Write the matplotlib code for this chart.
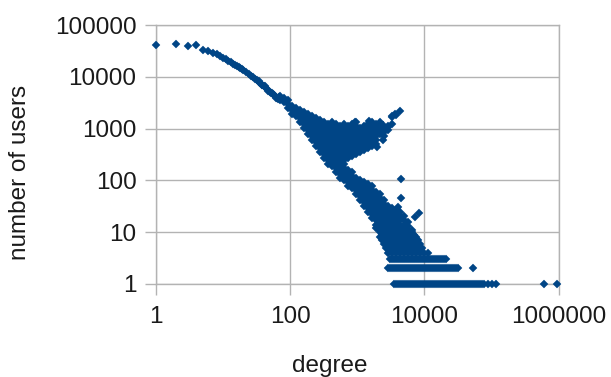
import matplotlib
matplotlib.use("Agg")
import matplotlib.pyplot as plt
from matplotlib.ticker import NullLocator

plt.rcParams['font.family'] = ['Liberation Sans', 'DejaVu Sans']

# Degree distribution: number of users having each degree

# the clean head of the curve
head_deg = [1, 2, 3, 4, 5, 6, 7, 8, 9, 10, 11, 12, 13, 14, 15, 16, 17, 18, 19, 20,
            22, 24, 26, 28, 30, 32, 34, 36, 38, 40, 43, 46, 50, 53, 56, 60, 63,
            34, 38, 42, 47, 52, 58, 61, 66, 68]
head_users = [41000, 42500, 40000, 41000, 33500, 31000, 29000, 27000, 25000, 23300,
              21800, 20400, 19000, 17900, 16900, 16000, 15300, 14600, 13900, 13300,
              12300, 11300, 10500, 9800, 9100, 8500, 8000, 7500, 7050, 6640, 6150,
              5650, 5200, 4850, 4590, 4200, 3980,
              8300, 6800, 6600, 5300, 4800, 4500, 3900, 3700, 4000]

# upper part: spread of the curve and the bump near 1000 users
upper_cols = {
    70: [4260, 3565],
    81: [3900, 3263],
    93: [3565, 2985, 2500],
    106: [2731, 2287, 1914],
    122: [2500, 2091, 1751],
    140: [2287, 1914, 1602, 1341],
    161: [2091, 1751, 1466, 1227, 1027],
    184: [1914, 1602, 1341, 1122, 940, 787],
    211: [1751, 1466, 1227, 1027, 860, 720, 603],
    243: [1602, 1341, 1122, 940, 787, 659, 551, 461],
    278: [1466, 1227, 1027, 860, 720, 603, 504, 422, 353],
    319: [1341, 1122, 940, 787, 659, 551, 461, 386, 323, 271],
    366: [1227, 1027, 860, 720, 603, 504, 422, 353, 296, 248, 207],
    420: [1341, 1122, 940, 787, 659, 551, 461, 386, 323, 271, 227, 190],
    481: [1227, 1027, 860, 720, 603, 504, 422, 353, 296, 248, 207, 173, 145],
    552: [1122, 940, 787, 659, 551, 461, 386, 323, 271, 227, 190, 159, 133, 111],
    634: [1227, 1027, 860, 720, 603, 504, 422, 353, 296, 248, 207, 173, 145, 122, 102],
    727: [1122, 940, 787, 659, 551, 461, 386, 323, 271],
    834: [1227, 1027, 860, 720, 603, 504, 422, 353, 296],
    957: [1341, 1122, 940, 787, 659, 551, 461, 386, 323],
    1097: [1027, 860, 720, 603, 504, 422, 353],
    1259: [1122, 940, 787, 659, 551, 461, 386],
    1444: [1227, 1027, 860, 720, 603, 504, 422],
    1656: [1341, 1122, 940, 787, 659, 551, 461],
    1900: [1227, 1027, 860, 720, 603, 504],
    2179: [1341, 1122, 940, 787],
    2500: [1027, 860, 720],
    2868: [1122, 940],
    3290: [1751, 1227],
    3774: [1836],
    4330: [2180],
}

# lower branch going down to ~10 users
lower_cols = {
    727: [159, 133, 111, 93, 78],
    834: [145, 122, 102, 85, 71],
    957: [111, 93, 78, 65, 55],
    1097: [102, 85, 71, 60, 50, 42],
    1259: [93, 78, 65, 55, 46, 38, 32],
    1444: [85, 71, 60, 50, 42, 35, 29, 25],
    1656: [78, 65, 55, 46, 38, 32, 27, 22, 19],
    1900: [60, 50, 42, 35, 29, 25, 21, 17, 14, 12],
    2179: [55, 46, 38, 32, 27, 22, 19, 16, 13, 11],
    2500: [42, 35, 29, 25, 21, 17, 14, 12],
    2868: [32, 27, 22, 19, 16, 13, 11],
    3290: [29, 25, 21, 17, 14, 12],
    3774: [27, 22, 19, 16, 13, 11],
    4330: [25, 21, 17, 14, 12],
    4967: [21, 17, 14, 12],
    5698: [16, 13, 11],
    6536: [11],
}

# small counts: degrees having 10, 9, ... 1 users
rows = {
    10: [2179, 2500, 2868, 3290, 3774, 4330, 4967, 5698, 6536],
    9: [2334, 2677, 3071, 3523, 4041, 4636, 5318, 6100, 6998],
    8: [2179, 2500, 2868, 3290, 3774, 4330, 4967, 5698, 6536, 7498],
    7: [2334, 2677, 3071, 3523, 4041, 4636, 5318, 6100, 6998, 8027],
    6: [2500, 2868, 3290, 3774, 4330, 4967, 5698, 6536, 7498, 8601],
    5: [2677, 3071, 3523, 4041, 4636, 5318, 6100, 6998, 8027, 9208],
    4: [2868, 3290, 3774, 4330, 4967, 5698, 6536, 7498, 8601, 9866, 11318],
    3: [3071, 3290, 3523, 3774, 4041, 4330, 4636, 4967, 5318, 5698, 6100, 6536,
        6998, 7498, 8027, 8601, 9208, 9866, 10563, 11318, 12117, 12983, 13900,
        14894, 15945, 17085, 18291, 19599, 20982],
    2: [2868, 3071, 3290, 3523, 3774, 4041, 4330, 4636, 4967, 5318, 5698, 6100,
        6536, 6998, 7498, 8027, 8601, 9208, 9866, 10563, 11318, 12117, 12983,
        13900, 14894, 15945, 17085, 18291, 19599, 20982, 22483, 24069, 25791,
        27610, 29586, 31672, 53000],
    1: [3523, 3774, 4041, 4330, 4636, 4967, 5318, 5698, 6100, 6536, 6998, 7498,
        8027, 8601, 9208, 9866, 10563, 11318, 12117, 12983, 13900, 14894, 15945,
        17085, 18291, 19599, 20982, 22483, 24069, 25791, 27610, 29586, 31672,
        33939, 36332, 38933, 41678, 44662, 47810, 51233, 54845, 58771, 62914,
        67419, 72170, 77340, 88720, 101774, 116749, 610000, 950000],
}

# isolated points
stray_deg = [924, 1494, 2390, 2390, 1960, 2870, 3680, 3290, 4436, 4436, 4040, 7200, 8200]
stray_users = [1360, 1400, 1180, 600, 445, 1090, 1910, 1680, 106, 46, 31, 20, 23]

xs = list(head_deg) + list(stray_deg)
ys = list(head_users) + list(stray_users)
for d, us in upper_cols.items():
    xs += [d] * len(us)
    ys += us
for d, us in lower_cols.items():
    xs += [d] * len(us)
    ys += us
for u, ds in rows.items():
    xs += ds
    ys += [u] * len(ds)

grey = '#b3b3b3'
blue = '#004586'

fig = plt.figure(figsize=(6.11, 3.77), dpi=100)
ax = fig.add_axes([156 / 611, 1 - 284 / 377, (558.7 - 156) / 611, (284 - 25) / 377])

ax.plot(xs, ys, linestyle='none', marker='D', markersize=4.3, color=blue,
        markeredgecolor=blue, markeredgewidth=0.3, clip_on=False, zorder=3)

ax.set_xscale('log')
ax.set_yscale('log')
ax.set_xlim(1, 1e6)
ax.set_ylim(1, 1e5)

ax.set_xticks([1, 100, 10000, 1000000])
ax.set_xticklabels(['1', '100', '10000', '1000000'])
ax.set_yticks([1, 10, 100, 1000, 10000, 100000])
ax.set_yticklabels(['1', '10', '100', '1000', '10000', '100000'])
ax.xaxis.set_minor_locator(NullLocator())
ax.yaxis.set_minor_locator(NullLocator())

ax.grid(True, color=grey, linewidth=1)
ax.set_axisbelow(True)
for s in ax.spines.values():
    s.set_color(grey)
    s.set_linewidth(1)

ax.tick_params(direction='out', length=8, width=1, color=grey,
               labelsize=17.5, labelcolor='#1a1a1a')
ax.tick_params(axis='y', pad=6)
ax.tick_params(axis='x', pad=8)

fig.text(20 / 611, 1 - 172 / 377, 'number of users', rotation=90,
         ha='center', va='center', fontsize=17.5, color='#1a1a1a')
fig.text(330 / 611, 1 - 366 / 377, 'degree',
         ha='center', va='center', fontsize=17.5, color='#1a1a1a')

plt.savefig('out.png', dpi=100)
plt.close()
